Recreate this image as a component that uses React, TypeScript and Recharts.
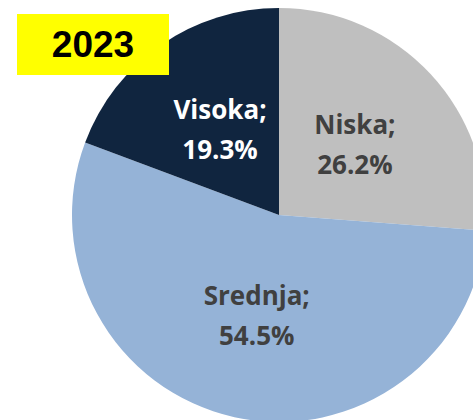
import { PieChart, Pie, Cell } from "recharts";

const CATEGORIES = ["Niska", "Srednja", "Visoka"];
const SHARES = [26.2, 54.5, 19.3];
const COLORS = ["#BFBFBF", "#95B3D7", "#10253F"];
const LABEL_COLORS = ["#404040", "#404040", "#FFFFFF"];
const YEAR = "2023";

const data = CATEGORIES.map((name, i) => ({ name, value: SHARES[i] }));

const RADIAN = Math.PI / 180;

const renderLabel = (props: any) => {
    const { cx, cy, midAngle, outerRadius, index, name, value } = props;
    const r = outerRadius * 0.5;
    const x = cx + r * Math.cos(-midAngle * RADIAN);
    const y = cy + r * Math.sin(-midAngle * RADIAN);
    return (
        <text
            x={x}
            y={y}
            textAnchor="middle"
            fill={LABEL_COLORS[index]}
            style={{ fontFamily: "'Open Sans', sans-serif", fontWeight: 700, fontSize: 26 }}
        >
            <tspan x={x} y={y - 11}>{name};</tspan>
            <tspan x={x} y={y + 29}>{value.toFixed(1)}%</tspan>
        </text>
    );
};

export default function App() {
    return (
        <div style={{ position: "absolute", left: 0, top: 0, width: 473, height: 420, background: "#fff", overflow: "hidden" }}>
            <PieChart width={473} height={420} margin={{ top: 0, right: 0, bottom: 0, left: 0 }}>
                <Pie
                    data={data}
                    dataKey="value"
                    nameKey="name"
                    cx={279}
                    cy={215}
                    outerRadius={207}
                    startAngle={90}
                    endAngle={-270}
                    stroke="none"
                    labelLine={false}
                    label={renderLabel}
                    isAnimationActive={false}
                >
                    {data.map((_, i) => (
                        <Cell key={i} fill={COLORS[i]} />
                    ))}
                </Pie>
            </PieChart>
            <div
                style={{
                    position: "absolute", left: 17, top: 14, width: 152, height: 61,
                    background: "#FFFF00", display: "flex", alignItems: "center", justifyContent: "center",
                    fontFamily: "'Liberation Sans', Arial, sans-serif", fontWeight: 700, fontSize: 37, color: "#000",
                }}
            >
                {YEAR}
            </div>
        </div>
    );
}
